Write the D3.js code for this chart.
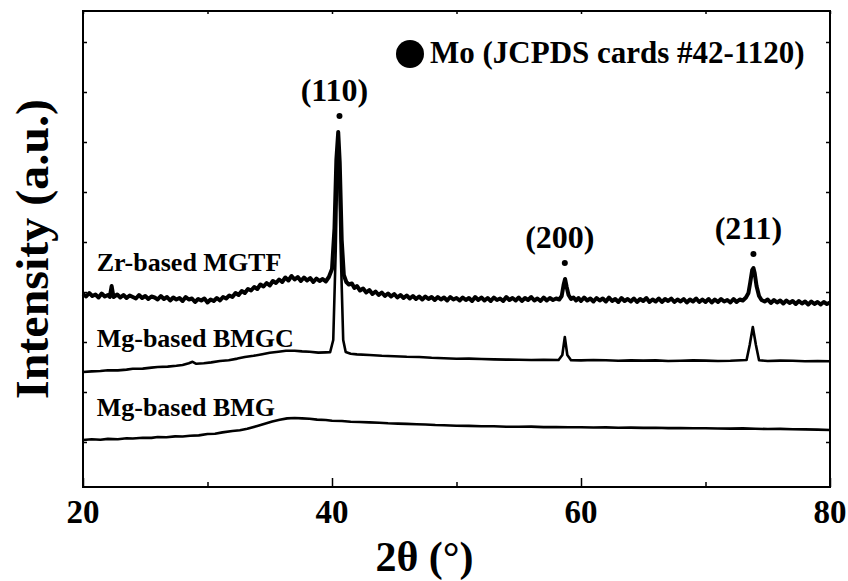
<!DOCTYPE html>
<html lang="en">

<head>
  <meta charset="utf-8">
  <title>XRD patterns</title>
  <script src="https://d3js.org/d3.v7.min.js"></script>
  <style>
    body { margin: 0; background: #fff; }
    svg text { font-family: "Liberation Serif", "Times New Roman", serif; font-weight: bold; fill: #000; }
    .axis path { display: none; }
    .axis line { stroke: #000; stroke-width: 1.5; }
    .trace { fill: none; stroke: #000; stroke-linejoin: round; }
  </style>
</head>

<body>
  <script>
    // 2theta (deg) vs intensity (a.u., traces stacked with offsets)
    var bmg = [[20,520],[20.7,527],[21.4,522],[22,531],[22.8,528],[23.5,538],[24,535],[24.8,543],[25.5,541],
      [26,550],[26.7,547],[27.4,556],[28,555],[28.6,563],[29.3,566],[30,580],[30.6,583],[31.2,596],
      [32,610],[32.6,618],[33.2,632],[34,660],[34.6,682],[35.2,704],[35.8,722],[36.4,736],[37,740],
      [37.6,736],[38.2,733],[38.8,724],[39.5,720],[40,712],[40.8,710],[41.5,703],[42.2,700],[43,696],
      [43.8,692],[44.5,687],[45.3,684],[46,681],[46.8,677],[47.5,675],[48.3,670],[49,668],[50,662],
      [51,661],[52,657],[53,658],[54,653],[55,652],[56,654],[57,649],[58,650],[59,647],[60,648],[61,645],
      [62,646],[63,643],[64,644],[65,641],[66,642],[67,639],[68,640],[69,637],[70,638],[71,635],[72,634],
      [73,636],[74,632],[75,630],[76,631],[77,627],[78,626],[79,624],[80,620]];

    var bmgc = [[20,1200],[20.7,1206],[21.4,1210],[22,1218],[22.8,1216],[23.5,1224],[24,1232],[24.8,1234],
      [25.5,1244],[26,1250],[26.8,1254],[27.5,1262],[28,1270],[28.5,1288],[28.8,1302],[29.1,1282],
      [29.7,1288],[30.3,1296],[31,1310],[31.7,1318],[32.4,1334],[33,1350],[33.7,1362],[34.4,1378],
      [35,1392],[35.7,1402],[36.3,1412],[37,1412],[37.6,1406],[38.2,1402],[38.9,1394],[39.5,1396],
      [39.85,1398],[40.1,1520],[40.3,2420],[40.42,3200],[40.5,3420],[40.58,3200],[40.7,2420],[40.9,1520],
      [41.1,1400],[41.5,1382],[42,1376],[43,1370],[44,1362],[45,1358],[46,1352],[47,1350],[48,1342],
      [49,1338],[50,1332],[51,1334],[52,1330],[53,1326],[54,1324],[55,1322],[56,1320],[57,1322],
      [58.2,1320],[58.5,1370],[58.7,1550],[58.9,1370],[59.2,1318],[60,1316],[61,1320],[62,1318],[63,1312],
      [64,1316],[65,1314],[66,1316],[67,1310],[68,1312],[69,1316],[70,1314],[71,1310],[72,1312],
      [73.3,1320],[73.55,1470],[73.8,1650],[74.05,1470],[74.3,1318],[75,1310],[76,1314],[77,1312],
      [78,1308],[79,1310],[80,1308]];

    var mgtf = [[20,1980],[20.25,1955],[20.5,1990],[20.75,1960],[21,1975],[21.25,1945],[21.5,1985],
      [21.75,1955],[22,1970],[22.15,1950],[22.3,2060],[22.45,1950],[22.75,1975],[23,1945],[23.25,1970],
      [23.5,1940],[23.75,1965],[24,1950],[24.25,1935],[24.5,1970],[24.75,1940],[25,1960],[25.25,1930],
      [25.5,1955],[25.75,1945],[26,1925],[26.25,1960],[26.5,1930],[26.75,1950],[27,1915],[27.25,1945],
      [27.5,1925],[27.75,1940],[28,1910],[28.25,1950],[28.5,1925],[28.75,1935],[29,1900],[29.25,1930],
      [29.5,1915],[29.75,1935],[30,1895],[30.25,1925],[30.5,1910],[30.75,1940],[31,1915],[31.25,1950],
      [31.5,1935],[31.75,1965],[32,1950],[32.25,1990],[32.5,1970],[32.75,2010],[33,1990],[33.25,2030],
      [33.5,2015],[33.75,2050],[34,2030],[34.25,2075],[34.5,2055],[34.75,2090],[35,2065],[35.25,2110],
      [35.5,2090],[35.75,2125],[36,2100],[36.25,2145],[36.5,2115],[36.75,2160],[37,2125],[37.25,2150],
      [37.5,2110],[37.75,2145],[38,2115],[38.25,2140],[38.5,2100],[38.75,2135],[39,2110],[39.25,2130],
      [39.5,2105],[39.75,2150],[40,2230],[40.2,2640],[40.35,3320],[40.5,3600],[40.62,3300],[40.78,2520],
      [40.95,2170],[41.15,2100],[41.35,2075],[41.6,2085],[41.8,2040],[42,2060],[42.25,2015],[42.5,2035],
      [42.75,1995],[43,2020],[43.25,1980],[43.5,2005],[43.75,1970],[44,1995],[44.25,1960],[44.5,1985],
      [44.75,1955],[45,1980],[45.25,1945],[45.5,1970],[45.75,1940],[46,1965],[46.25,1935],[46.5,1960],
      [46.75,1930],[47,1955],[47.25,1925],[47.5,1955],[47.75,1930],[48,1950],[48.25,1920],[48.5,1950],
      [48.75,1925],[49,1945],[49.25,1915],[49.5,1950],[49.75,1925],[50,1940],[50.25,1915],[50.5,1945],
      [50.75,1920],[51,1940],[51.25,1910],[51.5,1950],[51.75,1920],[52,1945],[52.25,1915],[52.5,1940],
      [52.75,1910],[53,1945],[53.25,1920],[53.5,1935],[53.75,1910],[54,1950],[54.25,1920],[54.5,1940],
      [54.75,1915],[55,1945],[55.25,1910],[55.5,1940],[55.75,1920],[56,1950],[56.25,1915],[56.5,1935],
      [56.75,1910],[57,1945],[57.25,1915],[57.5,1940],[57.75,1920],[58,1935],[58.25,1925],[58.45,1960],
      [58.6,2070],[58.72,2130],[58.85,2050],[59,1970],[59.2,1930],[59.4,1945],[59.6,1915],[59.8,1940],
      [60,1910],[60.25,1945],[60.5,1915],[60.75,1935],[61,1905],[61.25,1940],[61.5,1915],[61.75,1935],
      [62,1905],[62.25,1945],[62.5,1910],[62.75,1930],[63,1900],[63.25,1940],[63.5,1910],[63.75,1930],
      [64,1905],[64.25,1935],[64.5,1900],[64.75,1930],[65,1910],[65.25,1940],[65.5,1900],[65.75,1925],
      [66,1905],[66.25,1935],[66.5,1900],[66.75,1930],[67,1910],[67.25,1935],[67.5,1900],[67.75,1925],
      [68,1905],[68.25,1930],[68.5,1895],[68.75,1925],[69,1905],[69.25,1935],[69.5,1900],[69.75,1925],
      [70,1900],[70.25,1930],[70.5,1895],[70.75,1925],[71,1900],[71.25,1930],[71.5,1905],[71.75,1920],
      [72,1895],[72.25,1930],[72.5,1900],[72.75,1925],[73,1915],[73.25,1945],[73.45,1990],[73.6,2100],
      [73.75,2220],[73.85,2240],[73.95,2190],[74.1,2060],[74.3,1960],[74.5,1920],[74.75,1905],[75,1925],
      [75.25,1890],[75.5,1920],[75.75,1895],[76,1915],[76.25,1885],[76.5,1915],[76.75,1890],[77,1910],
      [77.25,1880],[77.5,1910],[77.75,1885],[78,1905],[78.25,1875],[78.5,1905],[78.75,1880],[79,1900],
      [79.25,1875],[79.5,1900],[79.75,1880],[80,1895]];

    var sampleNames = ['Mg-based BMG', 'Mg-based BMGC', 'Zr-based MGTF'];
    var labelPos = [[21.1, 760], [21.1, 1450], [21.1, 2210]];

    var peakNames = ['(110)', '(200)', '(211)'];
    var peakPos = [[40.6, 3760], [58.7, 2290], [73.85, 2380]];

    var xTicks = [20, 30, 40, 50, 60, 70, 80];
    var xLabels = [20, 40, 60, 80];
    var yTicks = [500, 1000, 1500, 2000, 2500, 3000, 3500, 4000, 4500];

    var w = 848, h = 581;
    var margin = {top: 11, right: 18, bottom: 94, left: 83};
    var innerW = w - margin.left - margin.right,
      innerH = h - margin.top - margin.bottom;

    var x = d3.scaleLinear().domain([20, 80]).range([0, innerW]);
    var y = d3.scaleLinear().domain([50, 4810]).range([innerH, 0]);

    var svg = d3.select('body').append('svg')
        .attr('width', w)
        .attr('height', h)
      .append('g')
        .attr('transform', 'translate(' + [margin.left, margin.top] + ')');

    var line = d3.line().x(d => x(d[0])).y(d => y(d[1]));

    svg.append('path').datum(bmg).attr('class', 'trace').attr('stroke-width', 2.6).attr('d', line);
    svg.append('path').datum(bmgc).attr('class', 'trace').attr('stroke-width', 2.6).attr('d', line);
    svg.append('path').datum(mgtf).attr('class', 'trace').attr('stroke-width', 4).attr('d', line);

    // axes, ticks pointing inward
    svg.append('g')
      .attr('class', 'x axis')
      .attr('transform', 'translate(0,' + innerH + ')')
      .call(d3.axisBottom(x).tickValues(xTicks).tickSize(0).tickFormat(''))
      .selectAll('.tick line')
        .attr('y2', d => xLabels.indexOf(d) >= 0 ? -9 : -5);

    svg.append('g')
      .attr('class', 'x axis')
      .call(d3.axisTop(x).tickValues(xTicks).tickSize(-3).tickFormat(''));

    svg.append('g')
      .attr('class', 'y axis')
      .call(d3.axisLeft(y).tickValues(yTicks).tickSize(-4).tickFormat(''));

    svg.append('g')
      .attr('class', 'y axis')
      .attr('transform', 'translate(' + innerW + ',0)')
      .call(d3.axisRight(y).tickValues(yTicks).tickSize(-4).tickFormat(''));

    svg.append('rect')
      .attr('width', innerW)
      .attr('height', innerH)
      .attr('fill', 'none')
      .attr('stroke', '#000')
      .attr('stroke-width', 2);

    svg.selectAll('.xlab')
      .data(xLabels)
    .enter().append('text')
      .attr('class', 'xlab')
      .attr('x', d => x(d))
      .attr('y', innerH + 36)
      .attr('text-anchor', 'middle')
      .attr('font-size', 33)
      .text(d => d);

    svg.append('text')
      .attr('x', innerW / 2 - 32)
      .attr('y', innerH + 84)
      .attr('text-anchor', 'middle')
      .attr('font-size', 42)
      .text('2θ (°)');

    svg.append('text')
      .attr('transform', 'translate(-35,' + (innerH / 2) + ') rotate(-90)')
      .attr('text-anchor', 'middle')
      .attr('font-size', 46)
      .attr('textLength', 300)
      .attr('lengthAdjust', 'spacingAndGlyphs')
      .text('Intensity (a.u.)');

    // sample labels
    svg.selectAll('.sample')
      .data(sampleNames)
    .enter().append('text')
      .attr('class', 'sample')
      .attr('x', (d, i) => x(labelPos[i][0]))
      .attr('y', (d, i) => y(labelPos[i][1]))
      .attr('font-size', 26)
      .text(d => d);

    // Mo peak markers
    svg.selectAll('.pdot')
      .data(peakPos)
    .enter().append('circle')
      .attr('class', 'pdot')
      .attr('cx', d => x(d[0]))
      .attr('cy', d => y(d[1]))
      .attr('r', 3);

    svg.selectAll('.plab')
      .data(peakNames)
    .enter().append('text')
      .attr('class', 'plab')
      .attr('x', (d, i) => x(peakPos[i][0]) - 5)
      .attr('y', (d, i) => y(peakPos[i][1]) - 15)
      .attr('text-anchor', 'middle')
      .attr('font-size', 32)
      .text(d => d);

    // legend
    svg.append('circle')
      .attr('cx', 327)
      .attr('cy', 43)
      .attr('r', 14);
    svg.append('text')
      .attr('x', 347)
      .attr('y', 52)
      .attr('font-size', 31)
      .text('Mo (JCPDS cards #42-1120)');
  </script>
</body>

</html>
